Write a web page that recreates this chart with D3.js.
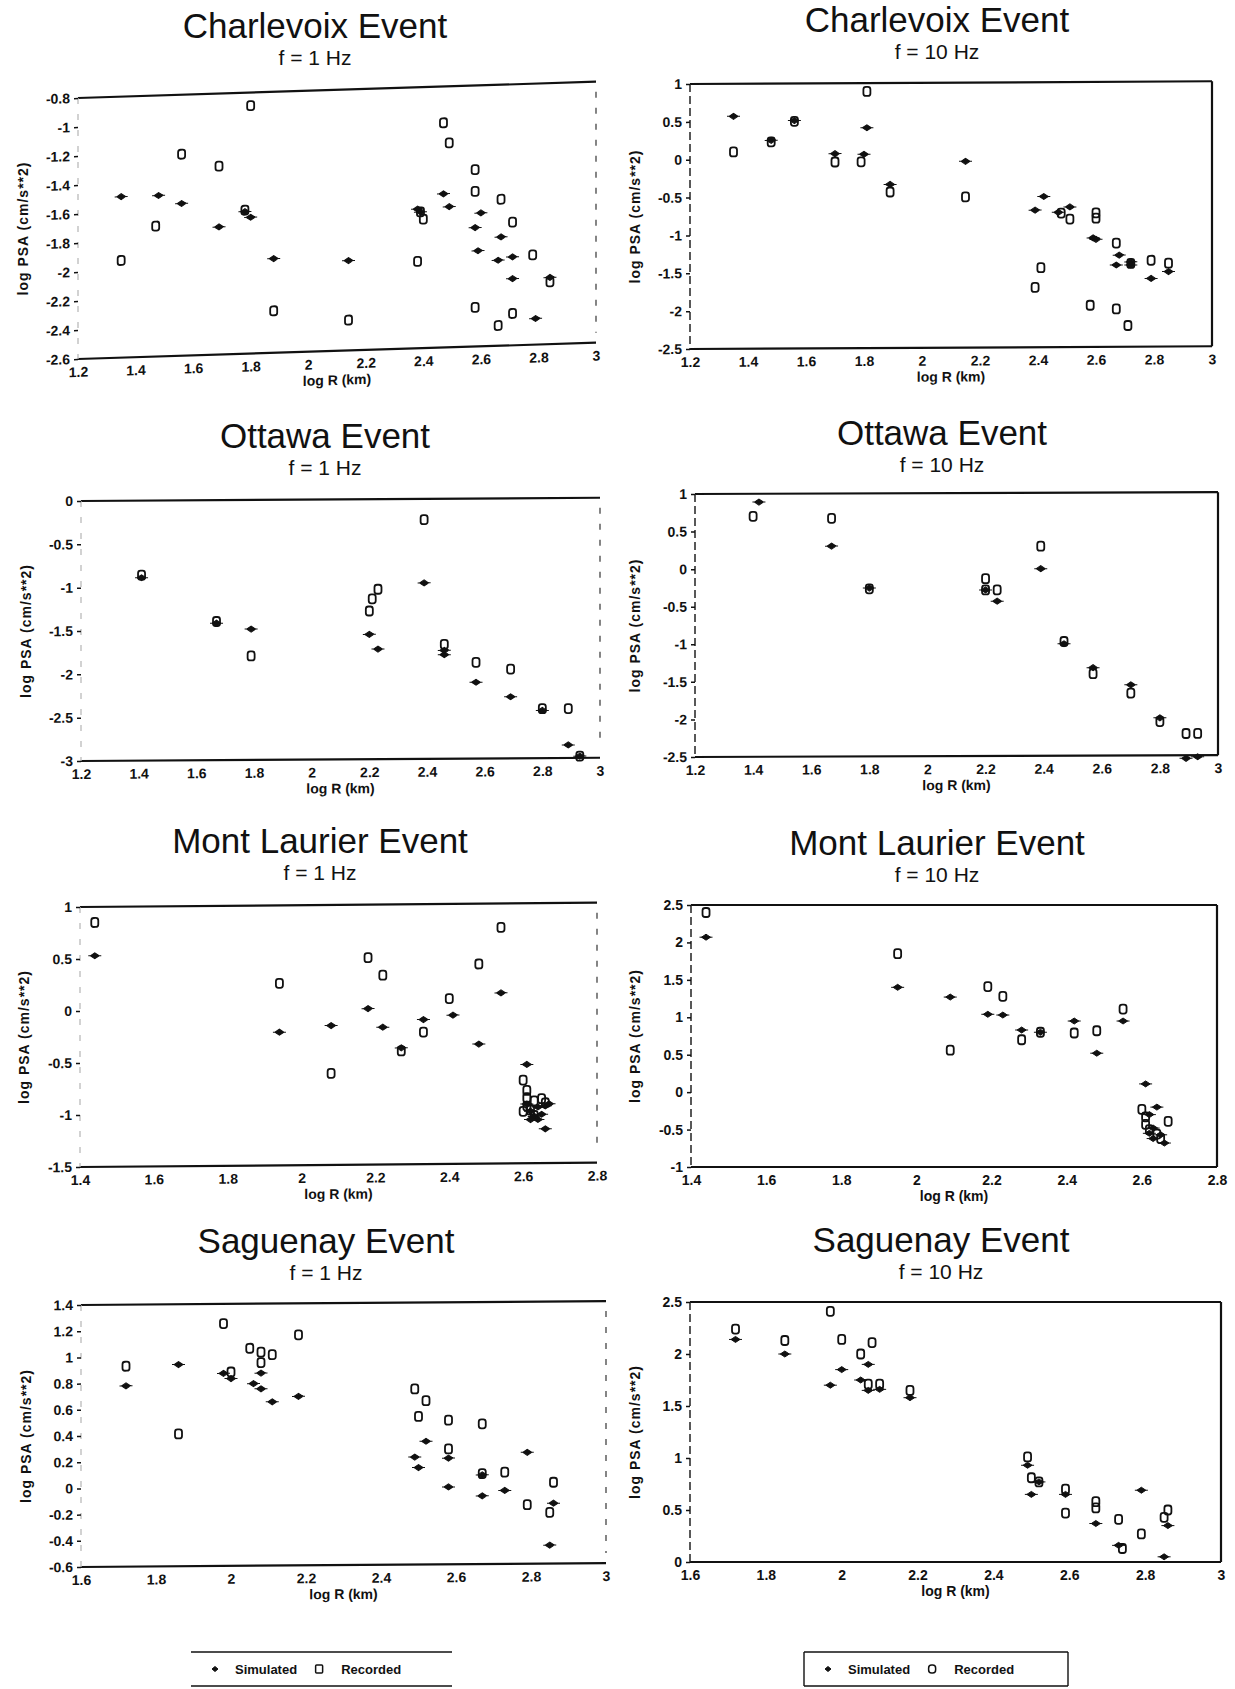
<!DOCTYPE html>
<html>
<head>
<meta charset="utf-8">
<title>log PSA vs log R</title>
<script src="https://d3js.org/d3.v7.min.js"></script>
<style>
	body { margin: 0; background: #fff; }
	svg { display: block; font-family: "Liberation Sans", Arial, sans-serif; }
	.title { font-size: 35px; text-anchor: middle; fill: #111; }
	.sub { font-size: 21px; text-anchor: middle; fill: #111; }
	.tick text { font-size: 14px; font-weight: bold; fill: #111; }
	.tick line { stroke: #111; stroke-width: 1.5; }
	.xlab, .ylab { font-size: 14px; font-weight: bold; text-anchor: middle; fill: #111; }
	.ylab { letter-spacing: 1px; }
	.frame { stroke: #111; stroke-width: 2.2; fill: none; }
	.dash { stroke: #444; stroke-width: 1.3; stroke-dasharray: 6,10; fill: none; }
	.dashdark { stroke: #222; stroke-width: 1.5; stroke-dasharray: 8,4; fill: none; }
	.rec { fill: none; stroke: #111; stroke-width: 1.8; }
	.sim { fill: #111; stroke: #111; stroke-width: 1; }
	.legtext { font-size: 13px; font-weight: bold; fill: #111; }
</style>
</head>
<body>
<svg id="chart" width="1235" height="1689"></svg>
<script>
// ---- data: [log R (km), log PSA (cm/s**2)] ----
var charlevoix1Sim = [[1.35,-1.49],[1.48,-1.49],[1.56,-1.55],[1.69,-1.72],[1.78,-1.62],[1.80,-1.66],[1.88,-1.95],[2.14,-1.98],[2.38,-1.64],[2.39,-1.66],[2.47,-1.54],[2.49,-1.63],[2.58,-1.78],[2.60,-1.68],[2.59,-1.94],[2.67,-1.85],[2.66,-2.01],[2.71,-1.99],[2.71,-2.14],[2.79,-2.42],[2.84,-2.14]];
var charlevoix1Rec = [[1.35,-1.93],[1.47,-1.70],[1.56,-1.21],[1.69,-1.30],[1.80,-0.89],[1.78,-1.61],[1.88,-2.31],[2.14,-2.39],[2.40,-1.71],[2.39,-1.66],[2.38,-2.00],[2.47,-1.05],[2.49,-1.19],[2.58,-1.38],[2.58,-1.53],[2.58,-2.33],[2.67,-1.59],[2.66,-2.46],[2.71,-1.75],[2.71,-2.38],[2.78,-1.98],[2.84,-2.17]];

var charlevoix10Sim = [[1.35,0.57],[1.48,0.25],[1.56,0.51],[1.70,0.07],[1.80,0.06],[1.81,0.41],[1.89,-0.34],[2.15,-0.04],[2.39,-0.69],[2.42,-0.51],[2.47,-0.72],[2.51,-0.65],[2.59,-1.06],[2.60,-1.08],[2.67,-1.42],[2.68,-1.29],[2.72,-1.38],[2.72,-1.42],[2.79,-1.60],[2.85,-1.51]];
var charlevoix10Rec = [[1.35,0.10],[1.48,0.23],[1.56,0.50],[1.70,-0.04],[1.79,-0.04],[1.81,0.89],[1.89,-0.44],[2.15,-0.51],[2.39,-1.71],[2.41,-1.45],[2.48,-0.73],[2.51,-0.81],[2.60,-0.73],[2.60,-0.80],[2.58,-1.95],[2.67,-1.13],[2.67,-2.00],[2.71,-2.22],[2.72,-1.40],[2.79,-1.36],[2.85,-1.40]];

var ottawa1Sim = [[1.41,-0.89],[1.67,-1.42],[1.79,-1.49],[2.20,-1.56],[2.23,-1.73],[2.39,-0.97],[2.46,-1.80],[2.46,-1.75],[2.57,-2.12],[2.69,-2.29],[2.80,-2.45],[2.89,-2.85],[2.93,-2.98]];
var ottawa1Rec = [[1.41,-0.86],[1.67,-1.40],[1.79,-1.80],[2.20,-1.29],[2.21,-1.15],[2.23,-1.04],[2.39,-0.24],[2.46,-1.68],[2.57,-1.89],[2.69,-1.97],[2.80,-2.43],[2.89,-2.43],[2.93,-2.98]];

var ottawa10Sim = [[1.42,0.89],[1.67,0.30],[1.80,-0.26],[2.20,-0.29],[2.24,-0.44],[2.39,-0.01],[2.47,-1.01],[2.57,-1.33],[2.70,-1.56],[2.80,-2.00],[2.89,-2.54],[2.93,-2.52]];
var ottawa10Rec = [[1.40,0.70],[1.67,0.67],[1.80,-0.27],[2.20,-0.14],[2.20,-0.29],[2.24,-0.29],[2.39,0.29],[2.47,-0.98],[2.57,-1.41],[2.70,-1.67],[2.80,-2.05],[2.89,-2.21],[2.93,-2.21]];

var laurier1Sim = [[1.44,0.53],[1.94,-0.22],[2.08,-0.16],[2.18,0.00],[2.22,-0.18],[2.27,-0.38],[2.33,-0.11],[2.41,-0.07],[2.48,-0.35],[2.54,0.14],[2.61,-0.55],[2.61,-0.93],[2.62,-1.00],[2.63,-1.05],[2.64,-0.96],[2.65,-1.03],[2.66,-0.95],[2.67,-0.93],[2.64,-1.08],[2.62,-1.08],[2.66,-1.17]];
var laurier1Rec = [[1.44,0.85],[1.94,0.25],[2.08,-0.62],[2.18,0.49],[2.22,0.32],[2.27,-0.41],[2.33,-0.23],[2.40,0.09],[2.48,0.42],[2.54,0.77],[2.60,-0.70],[2.61,-0.80],[2.61,-0.87],[2.61,-0.95],[2.62,-0.99],[2.63,-0.90],[2.65,-0.88],[2.66,-0.92],[2.60,-1.00],[2.63,-1.04]];

var laurier10Sim = [[1.44,2.07],[1.95,1.40],[2.09,1.27],[2.19,1.04],[2.23,1.03],[2.28,0.83],[2.33,0.80],[2.42,0.95],[2.48,0.52],[2.55,0.95],[2.61,0.11],[2.64,-0.20],[2.62,-0.30],[2.63,-0.48],[2.65,-0.57],[2.63,-0.62],[2.66,-0.68],[2.62,-0.55]];
var laurier10Rec = [[1.44,2.40],[1.95,1.85],[2.09,0.56],[2.19,1.41],[2.23,1.28],[2.28,0.70],[2.33,0.80],[2.42,0.79],[2.48,0.82],[2.55,1.11],[2.60,-0.23],[2.61,-0.33],[2.67,-0.39],[2.62,-0.50],[2.61,-0.43],[2.64,-0.56],[2.65,-0.62]];

var saguenay1Sim = [[1.72,0.78],[1.86,0.94],[1.98,0.87],[2.00,0.83],[2.06,0.79],[2.08,0.75],[2.08,0.87],[2.11,0.65],[2.18,0.69],[2.49,0.22],[2.50,0.14],[2.52,0.34],[2.58,0.21],[2.58,-0.01],[2.67,0.08],[2.67,-0.08],[2.73,-0.04],[2.79,0.25],[2.86,-0.14],[2.85,-0.46]];
var saguenay1Rec = [[1.72,0.93],[1.86,0.41],[1.98,1.25],[2.00,0.88],[2.05,1.06],[2.08,1.03],[2.08,0.95],[2.11,1.01],[2.18,1.16],[2.49,0.74],[2.52,0.65],[2.50,0.53],[2.58,0.50],[2.58,0.28],[2.67,0.47],[2.67,0.09],[2.73,0.10],[2.79,-0.15],[2.85,-0.21],[2.86,0.02]];

var saguenay10Sim = [[1.72,2.14],[1.85,2.00],[1.97,1.70],[2.00,1.85],[2.05,1.75],[2.07,1.90],[2.07,1.65],[2.10,1.66],[2.18,1.58],[2.49,0.93],[2.50,0.65],[2.52,0.77],[2.59,0.65],[2.67,0.37],[2.73,0.16],[2.79,0.69],[2.85,0.05],[2.86,0.35]];
var saguenay10Rec = [[1.72,2.24],[1.85,2.13],[1.97,2.41],[2.00,2.14],[2.05,2.00],[2.08,2.11],[2.07,1.71],[2.10,1.71],[2.18,1.65],[2.49,1.01],[2.50,0.81],[2.52,0.77],[2.59,0.70],[2.59,0.47],[2.67,0.58],[2.67,0.52],[2.73,0.41],[2.74,0.13],[2.79,0.27],[2.86,0.50],[2.85,0.43]];

// ---- tick labels ----
var xTicks12 = [1.2,1.4,1.6,1.8,2,2.2,2.4,2.6,2.8,3];
var xTicks14 = [1.4,1.6,1.8,2,2.2,2.4,2.6,2.8];
var xTicks16 = [1.6,1.8,2,2.2,2.4,2.6,2.8,3];
var charlevoix1Y = [-0.8,-1,-1.2,-1.4,-1.6,-1.8,-2,-2.2,-2.4,-2.6];
var tenHzY = [1,0.5,0,-0.5,-1,-1.5,-2,-2.5];
var ottawa1Y = [0,-0.5,-1,-1.5,-2,-2.5,-3];
var laurier1Y = [1,0.5,0,-0.5,-1,-1.5];
var laurier10Y = [2.5,2,1.5,1,0.5,0,-0.5,-1];
var saguenay1Y = [1.4,1.2,1,0.8,0.6,0.4,0.2,0,-0.2,-0.4,-0.6];
var saguenay10Y = [2.5,2,1.5,1,0.5,0];

// ---- layout of the eight panels ----
var panels = [
	{name:"Charlevoix", f:"1", sim:charlevoix1Sim, rec:charlevoix1Rec, xt:xTicks12, yt:charlevoix1Y,
	 cx:315, ty:38, l:78, r:596, t:98, b:359, skew:-1.8, box:false, yl:28},
	{name:"Charlevoix", f:"10", sim:charlevoix10Sim, rec:charlevoix10Rec, xt:xTicks12, yt:tenHzY,
	 cx:937, ty:32, l:690, r:1212, t:84, b:349, skew:-0.3, box:true, yl:640},
	{name:"Ottawa", f:"1", sim:ottawa1Sim, rec:ottawa1Rec, xt:xTicks12, yt:ottawa1Y,
	 cx:325, ty:448, l:81, r:600, t:501, b:761, skew:-0.36, box:false, yl:31},
	{name:"Ottawa", f:"10", sim:ottawa10Sim, rec:ottawa10Rec, xt:xTicks12, yt:tenHzY,
	 cx:942, ty:445, l:695, r:1218, t:494, b:757, skew:-0.2, box:true, yl:640},
	{name:"Mont Laurier", f:"1", sim:laurier1Sim, rec:laurier1Rec, xt:xTicks14, yt:laurier1Y,
	 cx:320, ty:853, l:80, r:597, t:907, b:1167, skew:-0.48, box:false, yl:29},
	{name:"Mont Laurier", f:"10", sim:laurier10Sim, rec:laurier10Rec, xt:xTicks14, yt:laurier10Y,
	 cx:937, ty:855, l:691, r:1217, t:905, b:1167, skew:0, box:true, yl:640},
	{name:"Saguenay", f:"1", sim:saguenay1Sim, rec:saguenay1Rec, xt:xTicks16, yt:saguenay1Y,
	 cx:326, ty:1253, l:81, r:606, t:1305, b:1567, skew:-0.43, box:false, yl:31},
	{name:"Saguenay", f:"10", sim:saguenay10Sim, rec:saguenay10Rec, xt:xTicks16, yt:saguenay10Y,
	 cx:941, ty:1252, l:690, r:1221, t:1302, b:1562, skew:0, box:true, yl:640}
];

var svg = d3.select("#chart");
var fmt = function(d){ return String(Math.round(d * 10) / 10); };
var diamond = "M-4.5,0L0,-3L4.5,0L0,3Z M-6.5,0H6.5";

var drawPanel = function(p) {
	var g = svg.append("g");
	g.append("text").attr("class", "title").attr("x", p.cx).attr("y", p.ty).text(p.name + " Event");
	g.append("text").attr("class", "sub").attr("x", p.cx).attr("y", p.ty + 27).text("f = " + p.f + " Hz");

	var w = p.r - p.l;
	var x = d3.scaleLinear().domain([p.xt[0], p.xt[p.xt.length - 1]]).range([0, w]);
	var y = d3.scaleLinear().domain([p.yt[0], p.yt[p.yt.length - 1]]).range([p.t, p.b]);

	// scanned page is a little tilted, so the plot is sheared slightly
	var plot = g.append("g").attr("transform", "translate(" + p.l + ",0) skewY(" + p.skew + ")");

	// frame
	plot.append("line").attr("class", "frame").attr("x1", 0).attr("x2", w).attr("y1", p.t).attr("y2", p.t);
	plot.append("line").attr("class", "frame").attr("x1", 0).attr("x2", w).attr("y1", p.b).attr("y2", p.b);
	if (p.box) {
		plot.append("line").attr("class", "frame").attr("x1", w).attr("x2", w).attr("y1", p.t).attr("y2", p.b);
		plot.append("line").attr("class", "dashdark").attr("x1", 0).attr("x2", 0).attr("y1", p.t).attr("y2", p.b);
	} else {
		plot.append("line").attr("class", "dash").attr("x1", w).attr("x2", w).attr("y1", p.t + 10).attr("y2", p.b - 10);
		plot.append("line").attr("class", "dash").style("stroke", "#bbb").attr("x1", 0).attr("x2", 0).attr("y1", p.t).attr("y2", p.b);
	}

	// axes
	var ax = plot.append("g").attr("transform", "translate(0," + p.b + ")")
		.call(d3.axisBottom(x).tickValues(p.xt).tickFormat(fmt).tickSize(0).tickPadding(8));
	ax.select(".domain").remove();

	var ay = plot.append("g")
		.call(d3.axisLeft(y).tickValues(p.yt).tickFormat(fmt).tickSize(4).tickPadding(4));
	ay.select(".domain").remove();

	plot.append("text").attr("class", "xlab")
		.attr("x", w / 2).attr("y", p.b + 34).text("log R (km)");

	// markers
	plot.selectAll(".rec").data(p.rec).enter().append("rect")
		.attr("class", "rec")
		.attr("x", function(d){ return x(d[0]) - 3.5; })
		.attr("y", function(d){ return y(d[1]) - 4.5; })
		.attr("width", 7).attr("height", 9).attr("rx", 2.5);

	plot.selectAll(".sim").data(p.sim).enter().append("path")
		.attr("class", "sim")
		.attr("d", diamond)
		.attr("transform", function(d){ return "translate(" + x(d[0]) + "," + y(d[1]) + ")"; });

	g.append("text").attr("class", "ylab")
		.attr("transform", "translate(" + p.yl + "," + ((p.t + p.b) / 2) + ") rotate(-90)")
		.text("log PSA (cm/s**2)");
};

panels.forEach(drawPanel);

// ---- legends ----
var drawLegend = function(x0, x1, y0, y1, sides, roundMark) {
	var g = svg.append("g");
	g.append("line").attr("class", "frame").style("stroke-width", 1.6).attr("x1", x0).attr("x2", x1).attr("y1", y0).attr("y2", y0);
	g.append("line").attr("class", "frame").style("stroke-width", 1.6).attr("x1", x0).attr("x2", x1).attr("y1", y1).attr("y2", y1);
	if (sides) {
		g.append("line").attr("class", "frame").style("stroke-width", 1.4).attr("x1", x0).attr("x2", x0).attr("y1", y0).attr("y2", y1);
		g.append("line").attr("class", "frame").style("stroke-width", 1.4).attr("x1", x1).attr("x2", x1).attr("y1", y0).attr("y2", y1);
	}
	var my = (y0 + y1) / 2;
	var cx = x0 + 24;
	g.append("path").attr("class", "sim").attr("d", "M-3,0L0,-2.5L3,0L0,2.5Z")
		.attr("transform", "translate(" + cx + "," + my + ")");
	var t1 = g.append("text").attr("class", "legtext").attr("x", cx + 20).attr("y", my + 5).text("Simulated");
	var rx = cx + 20 + t1.node().getComputedTextLength() + 22;
	g.append("rect").attr("class", "rec").style("stroke-width", 1.5)
		.attr("x", rx - 3.5).attr("y", my - 4).attr("width", 7).attr("height", 8).attr("rx", roundMark ? 3 : 1);
	g.append("text").attr("class", "legtext").attr("x", rx + 22).attr("y", my + 5).text("Recorded");
};

drawLegend(191, 452, 1652, 1686, false, false);
drawLegend(804, 1068, 1652, 1686, true, true);
</script>
</body>
</html>
